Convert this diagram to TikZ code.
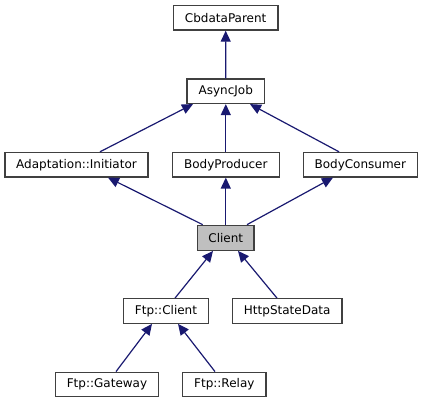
\documentclass[tikz,border=0pt]{standalone}
\usepackage{fontspec}
\setmainfont{DejaVu Sans}
\usetikzlibrary{arrows.meta,calc}
\definecolor{edgecol}{HTML}{191970}
\definecolor{boxcol}{HTML}{404040}
\tikzset{
  cls/.style={draw=boxcol,line width=1.3pt,fill=white,rectangle,inner sep=0pt,minimum height=24.5pt,font=\fontsize{12pt}{14pt}\selectfont},
  cur/.style={cls,fill=black!25},
  inh/.style={draw=edgecol,line width=1.2pt,-{Triangle[length=11pt,width=10pt]}}
}
\begin{document}
\begin{tikzpicture}[x=1pt,y=-1pt]
\useasboundingbox (0,0) rectangle (423,403);
\node[cls,minimum width=104.7pt] (cb) at (225.7,17.8) {CbdataParent};
\node[cls,minimum width=77.7pt] (aj) at (225.8,91.2) {AsyncJob};
\node[cls,minimum width=143pt] (ai) at (76.5,164.7) {Adaptation::Initiator};
\node[cls,minimum width=107pt] (bp) at (225.8,164.7) {BodyProducer};
\node[cls,minimum width=114pt] (bc) at (360.3,164.7) {BodyConsumer};
\node[cur,minimum width=56.3pt,minimum height=25pt] (cl) at (225.8,237.8) {Client};
\node[cls,minimum width=84.7pt] (fc) at (166,311) {Ftp::Client};
\node[cls,minimum width=109.7pt] (hs) at (287.2,311) {HttpStateData};
\node[cls,minimum width=103.4pt] (fg) at (107,384.5) {Ftp::Gateway};
\node[cls,minimum width=83.3pt] (fr) at (224.3,384.5) {Ftp::Relay};
\draw[inh] (aj.north) -- (cb.south);
\draw[inh] ($(ai.north)+(23.5,0)$) -- ($(aj.south)+(-32.8,0)$);
\draw[inh] (bp.north) -- (aj.south);
\draw[inh] ($(bc.north)+(-21.3,0)$) -- ($(aj.south)+(24.2,0)$);
\draw[inh] ($(cl.north)+(-23.1,0)$) -- ($(ai.south)+(31.5,0)$);
\draw[inh] (cl.north) -- (bp.south);
\draw[inh] ($(cl.north)+(21.2,0)$) -- ($(bc.south)+(-27.3,0)$);
\draw[inh] ($(fc.north)+(9,0)$) -- ($(cl.south)+(-12.8,0)$);
\draw[inh] ($(hs.north)+(-10.2,0)$) -- ($(cl.south)+(12.2,0)$);
\draw[inh] ($(fg.north)+(9,0)$) -- ($(fc.south)+(-14,0)$);
\draw[inh] ($(fr.north)+(-9.3,0)$) -- ($(fc.south)+(12,0)$);
\end{tikzpicture}
\end{document}
